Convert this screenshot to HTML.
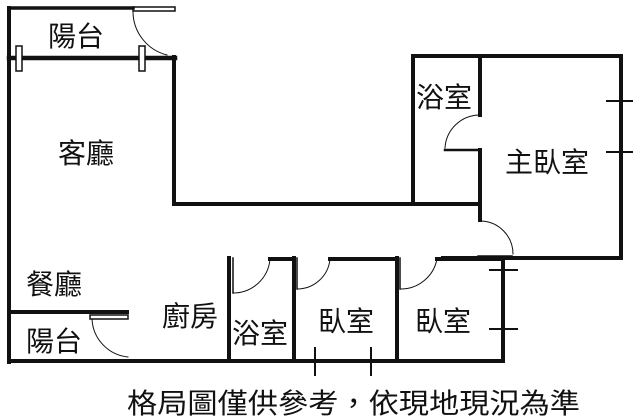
<!DOCTYPE html>
<html><head><meta charset="utf-8"><style>
html,body{margin:0;padding:0;background:#fff;}
svg{display:block}
text{font-family:"Liberation Sans","Noto Sans CJK TC",sans-serif;fill:#111;}
</style></head><body>
<svg width="640" height="418" viewBox="0 0 640 418" xmlns="http://www.w3.org/2000/svg">
<g stroke="#111" fill="none" stroke-linecap="square">
 <path d="M9 8 H133" stroke-width="3.5"/>
 <rect x="133" y="7" width="42" height="4" stroke-width="1.5"/>
 <path d="M9 8 V362" stroke-width="4"/>
 <path d="M9 58 H175" stroke-width="4.5"/>
 <rect x="16" y="46" width="6" height="25" fill="#fff" stroke-width="1.5"/>
 <rect x="139" y="46" width="6" height="25" fill="#fff" stroke-width="1.5"/>
 <path d="M133 11 A45 45 0 0 0 167 55" stroke-width="1"/>
 <path d="M174 57 V204 H413" stroke-width="4"/>
 <path d="M413 204 V56 H621 V258 H443" stroke-width="4"/>
 <path d="M480 56 V115" stroke-width="4"/>
 <path d="M480 150 V220" stroke-width="4"/>
 <path d="M445 150 H480" stroke-width="2.5"/>
 <path d="M480 115 A35 35 0 0 0 445 148" stroke-width="1"/>
 <path d="M480 221 A33 33 0 0 1 513 254" stroke-width="1"/>
 <path d="M478 256 H512" stroke-width="1.5"/>
 <path d="M413 204 H477" stroke-width="4"/>
 <path d="M621 90 V160" stroke-width="4"/>
 <path d="M607 101 H632 M607 152 H632" stroke-width="2"/>
 <path d="M9 361 H503 V258" stroke-width="4"/>
 <path d="M9 312 H127" stroke-width="4"/>
 <rect x="90" y="315" width="38" height="4" stroke-width="1.5"/>
 <path d="M92 319 A40 40 0 0 0 128 357" stroke-width="1"/>
 <path d="M229 258 V361 M294 258 V361 M397 258 V361" stroke-width="4"/>
 <path d="M233 258 V293" stroke-width="1.5"/>
 <path d="M270 259 H294 M330 259 H397 M437 259 H503" stroke-width="4"/>
 <path d="M233 293 A37 37 0 0 0 270 259" stroke-width="1"/>
 <path d="M297 289 A33 33 0 0 0 330 259" stroke-width="1"/>
 <path d="M400 289 A37 37 0 0 0 437 259" stroke-width="1"/>
 <path d="M297 258 V289 M400 258 V289" stroke-width="1.5"/>
 <path d="M315 348 V375 M371 348 V375" stroke-width="2"/>
 <path d="M490 270 H517 M490 329 H517" stroke-width="2"/>
</g>
<g font-size="28">
 <text x="48" y="46">陽台</text>
 <text x="58" y="163">客廳</text>
 <text x="416" y="107">浴室</text>
 <text x="505" y="172">主臥室</text>
 <text x="26" y="294">餐廳</text>
 <text x="26" y="351">陽台</text>
 <text x="162" y="326">廚房</text>
 <text x="232" y="343">浴室</text>
 <text x="318" y="331">臥室</text>
 <text x="415" y="331">臥室</text>
 <text x="127" y="413" textLength="453" lengthAdjust="spacingAndGlyphs">格局圖僅供參考，依現地現況為準</text>
</g>
</svg>
</body></html>
